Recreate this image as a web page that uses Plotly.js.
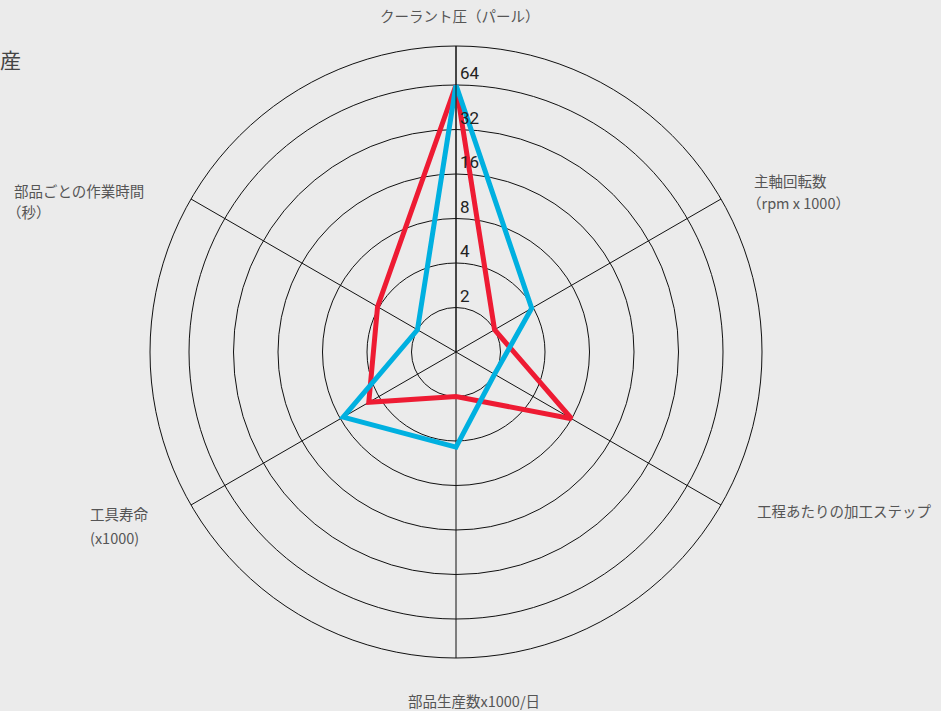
<!DOCTYPE html>
<html>
<head>
<meta charset="utf-8">
<script src="https://cdn.plot.ly/plotly-3.0.1.min.js"></script>
<style>html,body{margin:0;padding:0;background:#ebebeb;}</style>
</head>
<body>
<div id="chart" style="width:941px;height:711px;"></div>
<script>
const categories = [
  'クーラント圧（パール）',
  '主軸回転数<br>（rpm x 1000）',
  '工程あたりの加工ステップ',
  '部品生産数x1000/日',
  '工具寿命<br>(x1000)',
  '部品ごとの作業時間<br>（秒）'
];
const redValues = [64, 2, 8, 2, 4.8, 4.1];
const blueValues = [64, 3.9, 2, 4.4, 7.6, 2];
const radialTicks = [2, 4, 8, 16, 32, 64];
const radialTickText = ['2', '4', '8', '16', '32', '64'];

// label line placement (pixels in the 941x711 page): per category, per line [x, y]; xanchor
const labelPlacement = [
  {anchor: 'center', lines: [[460, 16]]},
  {anchor: 'left', lines: [[752, 180], [745, 202]]},
  {anchor: 'left', lines: [[755, 510]]},
  {anchor: 'center', lines: [[474, 700]]},
  {anchor: 'left', lines: [[88, 513], [88, 537]]},
  {anchor: 'left', lines: [[12, 190], [5, 212]]}
];

function closed(a) { return a.concat([a[0]]); }

const M = {l: 150, r: 179, t: 46, b: 53};
const PW = 941 - M.l - M.r, PH = 711 - M.t - M.b;
function px(x) { return (x - M.l) / PW; }
function py(y) { return 1 - (y - M.t) / PH; }

const traces = [
  {type: 'scatterpolar', mode: 'lines', name: 'red', r: closed(redValues), theta: closed(categories),
   line: {color: '#ee1b33', width: 5}, showlegend: false},
  {type: 'scatterpolar', mode: 'lines', name: 'blue', r: closed(blueValues), theta: closed(categories),
   line: {color: '#00b0e0', width: 5}, showlegend: false}
];

const annotations = [];
categories.forEach((c, i) => {
  const parts = c.split('<br>');
  const pl = labelPlacement[i];
  parts.forEach((t, j) => {
    annotations.push({
      text: t, xref: 'paper', yref: 'paper',
      x: px(pl.lines[j][0]), y: py(pl.lines[j][1]),
      xanchor: pl.anchor, yanchor: 'middle', align: 'left',
      showarrow: false, font: {size: 14.5, color: '#555'}
    });
  });
});

const layout = {
  width: 941, height: 711,
  paper_bgcolor: '#ebebeb',
  font: {family: '"Noto Sans CJK JP", "Noto Sans", sans-serif', color: '#444'},
  title: {text: '産', x: 0, xref: 'container', xanchor: 'left', y: 0.915, yref: 'container', yanchor: 'middle',
          font: {size: 21, color: '#444'}},
  margin: M,
  showlegend: false,
  annotations: annotations,
  polar: {
    bgcolor: '#ebebeb',
    domain: {x: [0, 1], y: [0, 1]},
    radialaxis: {
      type: 'log', range: [0, 2.07], angle: 90, tickangle: 90,
      tickvals: radialTicks, ticktext: radialTickText.map(t => t + '<br> '),
      showline: true, linecolor: '#111', linewidth: 1,
      gridcolor: '#111', gridwidth: 1, ticks: '',
      tickfont: {size: 17, color: '#222', family: 'Roboto, "Noto Sans", sans-serif'}
    },
    angularaxis: {
      type: 'category', rotation: 90, direction: 'clockwise',
      showline: true, linecolor: '#111', linewidth: 1,
      gridcolor: '#111', gridwidth: 1, ticks: '',
      showticklabels: false
    }
  }
};

Plotly.newPlot('chart', traces, layout, {displayModeBar: false});
</script>
</body>
</html>
